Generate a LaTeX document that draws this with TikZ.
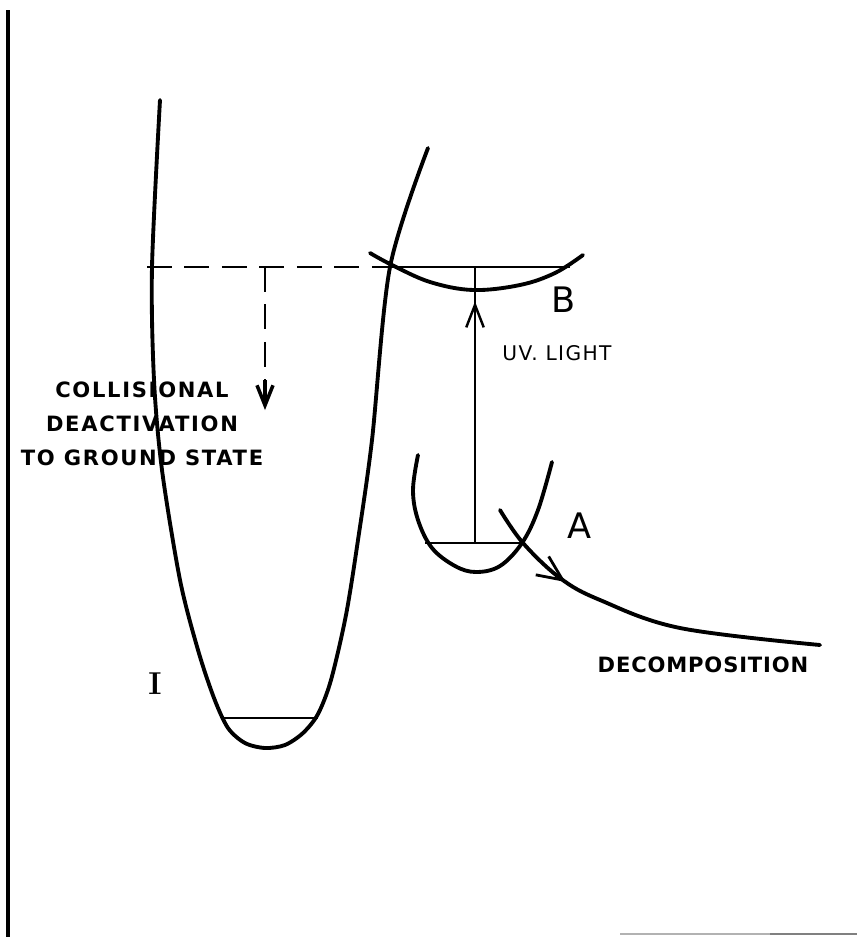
\documentclass[tikz,border=0pt]{standalone}
\usepackage{fontspec}
\setsansfont{DejaVu Sans}
\usetikzlibrary{arrows.meta,calc,decorations.markings}

\begin{document}
\begin{tikzpicture}[
  x=0.02cm, y=-0.02cm,
  well/.style={line width=2.2pt, line cap=round},
  level/.style={line width=0.9pt},
  dashedline/.style={line width=1.2pt, dash pattern=on 0.5cm off 0.25cm},
  caption/.style={font=\sffamily\bfseries\fontsize{12}{19.3}\selectfont\addfontfeature{LetterSpace=8}, align=center, inner sep=0pt},
  letter/.style={font=\sffamily\fontsize{20}{22}\selectfont, inner sep=0pt},
  barb/.style={-{Straight Barb[length=4mm, width=3.2mm]}}
]
\useasboundingbox (0,0) rectangle (857,937);

% frame
\draw[line width=2.2pt] (8,10) -- (8,937);
\draw[line width=0.8pt, gray!60] (620,934) -- (770,934);
\draw[line width=0.8pt, gray] (770,934) -- (857,934);

% named points on the levels
\coordinate (ileft) at (222,718);
\coordinate (iright) at (318,718);
\coordinate (aleft) at (425,543);
\coordinate (aright) at (522,543);
\coordinate (auv) at (475,543);
\coordinate (bstart) at (147,267);
\coordinate (bcross) at (390,267);
\coordinate (bright) at (570,267);
\coordinate (buv) at (475,267);
\coordinate (dtop) at (265,267);
\coordinate (dend) at (265,410);

% potential curves
\draw[well] plot[smooth, tension=0.5] coordinates {(160,100) (152,267) (154,380) (162,470) (180,580) (198,650) (214,698) (228,728) (245,743) (265,748) (285,745) (303,733) (318,714) (331,680) (346,615) (358,540) (372,440) (390,267) (428,148)};
\draw[well] plot[smooth, tension=0.6] coordinates {(418,455) (413,490) (418,520) (432,548) (455,566) (476,572) (500,566) (522,543) (538,510) (552,462)};
\draw[well] plot[smooth, tension=0.6] coordinates {(370,253) (392,265) (430,282) (473,290) (520,285) (555,273) (583,255)};
\draw[well, postaction={decorate}, decoration={markings,
    mark=at position 0.27 with {\arrow[line width=1.6pt]{Straight Barb[length=5mm, width=4.5mm]}}}]
  plot[smooth, tension=0.6] coordinates {(500,510) (523,543) (560,578) (600,600) (680,628) (820,645)};

% levels
\draw[level] (ileft) -- (iright);
\draw[level] (aleft) -- (aright);
\draw[dashedline] (bstart) -- (bcross);
\draw[level] (bcross) -- (bright);

% transitions
\draw[dashedline] (dtop) -- ($(dend)+(0,-25)$);
\draw[line width=2pt, barb] ($(dend)+(0,-30)$) -- (dend);
\draw[level, postaction={decorate}, decoration={markings,
    mark=at position 0.875 with {\arrow[line width=1.4pt]{Straight Barb[length=4.5mm, width=3.5mm]}}}]
  (auv) -- (buv);

% labels
\node[caption] (collis) at (142,424) {COLLISIONAL\\DEACTIVATION\\TO GROUND STATE};
\node[caption, font=\sffamily\fontsize{11.5}{13}\selectfont\addfontfeature{LetterSpace=7}] (uv) at (557,353) {UV. LIGHT};
\node[caption, font=\sffamily\bfseries\fontsize{12}{14}\selectfont\addfontfeature{LetterSpace=4}] (decomp) at (703,665) {DECOMPOSITION};
\node[letter] (labB) at (564,300) {B};
\node[letter] (labA) at (580,526) {A};
\node[inner sep=0pt, font=\bfseries\fontsize{18}{20}\selectfont] (labI) at (155,684) {I};
\end{tikzpicture}
\end{document}
